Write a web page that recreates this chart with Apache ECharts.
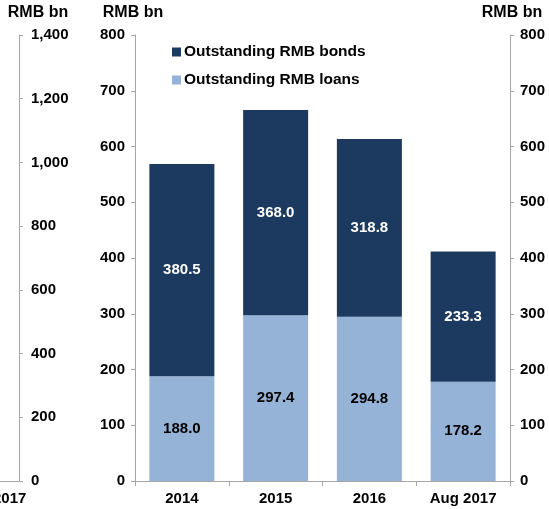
<!DOCTYPE html>
<html>
<head>
<meta charset="utf-8">
<script src="https://cdn.jsdelivr.net/npm/echarts@6/dist/echarts.min.js"></script>
<style>
  html, body { margin: 0; padding: 0; background: #fff; }
  #chart { width: 549px; height: 509px; }
</style>
</head>
<body>
<div id="chart"></div>
<script>
// Outstanding offshore RMB bonds and loans, RMB bn
const categories = ['2014', '2015', '2016', 'Aug 2017'];
const loans = [188.0, 297.4, 294.8, 178.2];
const bonds = [380.5, 368.0, 318.8, 233.3];

// Neighbouring panel: only its last category and its value axis stay in frame
const sideCategories = ['Aug 2017'];
const sideAxisMax = 1400;
const sideAxisStep = 200;

const mainAxisMax = 800;
const mainAxisStep = 100;

const FONT = '"Liberation Sans", Arial, sans-serif';
const AXIS_GREY = '#A6A6A6';
const NAVY = '#1C3A5F';
const LIGHT_BLUE = '#95B3D7';

const labelStyle = { fontFamily: FONT, fontSize: 15, fontWeight: 'bold', color: '#000' };
const nameStyle = { fontFamily: FONT, fontSize: 16, fontWeight: 'bold', color: '#000' };
const axisLine = { show: true, lineStyle: { color: AXIS_GREY, width: 1 } };
const axisTick = { show: true, length: 4, lineStyle: { color: AXIS_GREY, width: 1 } };

const chart = echarts.init(document.getElementById('chart'), null, { renderer: 'canvas' });

chart.setOption({
  animation: false,
  backgroundColor: '#fff',
  grid: [
    { left: -33, right: 530, top: 35, bottom: 28, containLabel: false, outerBoundsMode: 'none' },
    { left: 135, right: 39, top: 35, bottom: 28, containLabel: false, outerBoundsMode: 'none' }
  ],
  legend: {
    orient: 'vertical',
    left: 167,
    top: 39,
    itemWidth: 9,
    itemHeight: 9,
    itemGap: 12,
    icon: 'rect',
    textStyle: Object.assign({}, labelStyle, { fontSize: 15.5, padding: [0, 0, 0, -2] }),
    data: ['Outstanding RMB bonds', 'Outstanding RMB loans']
  },
  xAxis: [
    {
      type: 'category',
      gridIndex: 0,
      data: sideCategories,
      axisLine: axisLine,
      axisTick: { show: false },
      axisLabel: Object.assign({}, labelStyle, { margin: 10 })
    },
    {
      type: 'category',
      gridIndex: 1,
      data: categories,
      axisLine: axisLine,
      axisTick: { show: true, length: 5, lineStyle: { color: AXIS_GREY } },
      axisLabel: Object.assign({}, labelStyle, { margin: 10 })
    }
  ],
  yAxis: [
    {
      type: 'value',
      gridIndex: 0,
      position: 'right',
      min: 0,
      max: sideAxisMax,
      interval: sideAxisStep,
      name: 'RMB bn',
      nameLocation: 'end',
      nameGap: 14,
      nameTextStyle: Object.assign({}, nameStyle, { padding: [0, 0, 0, 38] }),
      axisLine: axisLine,
      axisTick: axisTick,
      splitLine: { show: false },
      axisLabel: Object.assign({}, labelStyle, { margin: 12 })
    },
    {
      type: 'value',
      gridIndex: 1,
      position: 'left',
      min: 0,
      max: mainAxisMax,
      interval: mainAxisStep,
      name: 'RMB bn',
      nameLocation: 'end',
      nameGap: 14,
      nameTextStyle: Object.assign({}, nameStyle, { padding: [0, 4, 0, 0] }),
      axisLine: axisLine,
      axisTick: axisTick,
      splitLine: { show: false },
      axisLabel: Object.assign({}, labelStyle, { margin: 10 })
    },
    {
      type: 'value',
      gridIndex: 1,
      position: 'right',
      min: 0,
      max: mainAxisMax,
      interval: mainAxisStep,
      name: 'RMB bn',
      nameLocation: 'end',
      nameGap: 14,
      nameTextStyle: Object.assign({}, nameStyle, { padding: [0, 0, 0, 4] }),
      axisLine: axisLine,
      axisTick: axisTick,
      splitLine: { show: false },
      axisLabel: Object.assign({}, labelStyle, { margin: 10 })
    }
  ],
  series: [
    {
      name: 'Outstanding RMB loans',
      type: 'bar',
      xAxisIndex: 1,
      yAxisIndex: 1,
      stack: 'total',
      barWidth: 65,
      data: loans,
      itemStyle: { color: LIGHT_BLUE },
      label: {
        show: true,
        position: 'inside',
        formatter: p => p.value.toFixed(1),
        fontFamily: FONT, fontSize: 15, fontWeight: 'bold', color: '#000'
      }
    },
    {
      name: 'Outstanding RMB bonds',
      type: 'bar',
      xAxisIndex: 1,
      yAxisIndex: 1,
      stack: 'total',
      barWidth: 65,
      data: bonds,
      itemStyle: { color: NAVY },
      label: {
        show: true,
        position: 'inside',
        formatter: p => p.value.toFixed(1),
        fontFamily: FONT, fontSize: 15, fontWeight: 'bold', color: '#fff'
      }
    }
  ]
});
</script>
</body>
</html>
